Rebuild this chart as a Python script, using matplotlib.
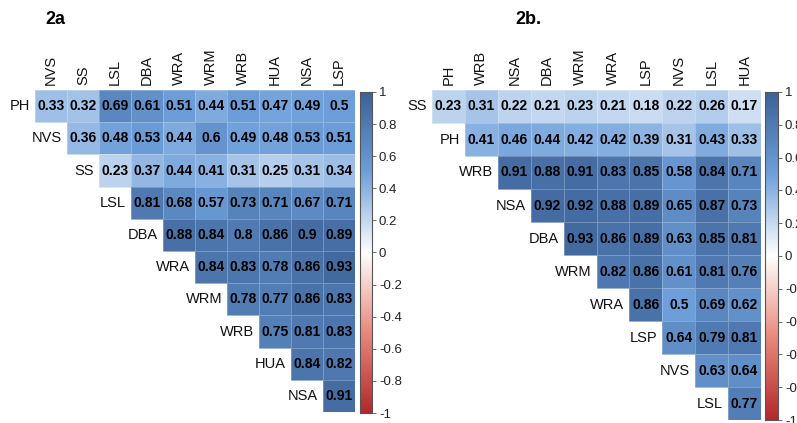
import numpy as np
import matplotlib
matplotlib.use("Agg")
import matplotlib.pyplot as plt
from matplotlib.colors import LinearSegmentedColormap
from matplotlib.ticker import FixedLocator, FixedFormatter

plt.rcParams['font.family'] = ['Liberation Sans', 'DejaVu Sans']

# Panel 2a: upper-triangle correlations (row i holds columns i..end)
rows_a = ["PH", "NVS", "SS", "LSL", "DBA", "WRA", "WRM", "WRB", "HUA", "NSA"]
cols_a = ["NVS", "SS", "LSL", "DBA", "WRA", "WRM", "WRB", "HUA", "NSA", "LSP"]
vals_a = [
    [0.33, 0.32, 0.69, 0.61, 0.51, 0.44, 0.51, 0.47, 0.49, 0.5],
    [0.36, 0.48, 0.53, 0.44, 0.6, 0.49, 0.48, 0.53, 0.51],
    [0.23, 0.37, 0.44, 0.41, 0.31, 0.25, 0.31, 0.34],
    [0.81, 0.68, 0.57, 0.73, 0.71, 0.67, 0.71],
    [0.88, 0.84, 0.8, 0.86, 0.9, 0.89],
    [0.84, 0.83, 0.78, 0.86, 0.93],
    [0.78, 0.77, 0.86, 0.83],
    [0.75, 0.81, 0.83],
    [0.84, 0.82],
    [0.91],
]

# Panel 2b
rows_b = ["SS", "PH", "WRB", "NSA", "DBA", "WRM", "WRA", "LSP", "NVS", "LSL"]
cols_b = ["PH", "WRB", "NSA", "DBA", "WRM", "WRA", "LSP", "NVS", "LSL", "HUA"]
vals_b = [
    [0.23, 0.31, 0.22, 0.21, 0.23, 0.21, 0.18, 0.22, 0.26, 0.17],
    [0.41, 0.46, 0.44, 0.42, 0.42, 0.39, 0.31, 0.43, 0.33],
    [0.91, 0.88, 0.91, 0.83, 0.85, 0.58, 0.84, 0.71],
    [0.92, 0.92, 0.88, 0.89, 0.65, 0.87, 0.73],
    [0.93, 0.86, 0.89, 0.63, 0.85, 0.81],
    [0.82, 0.86, 0.61, 0.81, 0.76],
    [0.86, 0.5, 0.69, 0.62],
    [0.64, 0.79, 0.81],
    [0.63, 0.64],
    [0.77],
]

cbar_ticks = [1, 0.8, 0.6, 0.4, 0.2, 0, -0.2, -0.4, -0.6, -0.8, -1]

cmap = LinearSegmentedColormap.from_list(
    "corr", ["#B2282D", "#E8897B", "#FFFFFF", "#6E9FDA", "#3C6297"])

W, H = 797, 423
fig = plt.figure(figsize=(W / 100, H / 100), dpi=100)


def px_axes(x0, y0, x1, y1):
    """Axes from pixel box (top-left origin)."""
    return fig.add_axes([x0 / W, 1 - y1 / H, (x1 - x0) / W, (y1 - y0) / H])


def triangle(ax, rows, cols, vals):
    n = len(rows)
    m = np.full((n, len(cols)), np.nan)
    for i, r in enumerate(vals):
        m[i, i:i + len(r)] = r
    mm = np.ma.masked_invalid(m)
    ax.pcolormesh(np.arange(len(cols) + 1), np.arange(n + 1), mm,
                  cmap=cmap, vmin=-1, vmax=1,
                  edgecolors=(1, 1, 1, 0.25), linewidth=0.4)
    ax.set_xlim(0, len(cols))
    ax.set_ylim(n, 0)
    ax.axis("off")
    for i, r in enumerate(vals):
        for k, v in enumerate(r):
            j = i + k
            ax.text(j + 0.5, i + 0.5, f"{v:g}", ha="center", va="center",
                    fontsize=10, fontweight="bold", color="black")
        ax.text(i - 0.15, i + 0.5, rows[i], ha="right", va="center",
                fontsize=10.5, color="#111111", clip_on=False)
    for j, c in enumerate(cols):
        ax.text(j + 0.5, -0.15, c, ha="center", va="bottom", rotation=90,
                fontsize=10.5, color="#111111", clip_on=False)


def colorbar(cax):
    grad = np.linspace(-1, 1, 256).reshape(-1, 1)
    cax.imshow(grad, aspect="auto", cmap=cmap, vmin=-1, vmax=1,
               origin="lower", extent=[0, 1, -1, 1])
    cax.set_xticks([])
    cax.yaxis.tick_right()
    cax.yaxis.set_major_locator(FixedLocator(cbar_ticks))
    cax.yaxis.set_major_formatter(FixedFormatter(
        [f"{t:g}" for t in cbar_ticks]))
    cax.tick_params(axis="y", length=3, width=0.6, color="#555555",
                    labelsize=9.5, labelcolor="#222222", pad=2)
    for s in cax.spines.values():
        s.set_color("#555555")
        s.set_linewidth(0.8)


ax_a = px_axes(35, 90, 355, 412)
triangle(ax_a, rows_a, cols_a, vals_a)
cax_a = px_axes(360, 92, 372, 413)
colorbar(cax_a)

ax_b = px_axes(432, 90, 761, 420)
triangle(ax_b, rows_b, cols_b, vals_b)
cax_b = px_axes(765, 92, 778, 420)
colorbar(cax_b)

fig.text(45 / W, 1 - 19 / H, "2a", fontsize=13, fontweight="bold",
         ha="left", va="center")
fig.text(515 / W, 1 - 20 / H, "2b.", fontsize=13, fontweight="bold",
         ha="left", va="center")

fig.savefig("out.png", dpi=100)
